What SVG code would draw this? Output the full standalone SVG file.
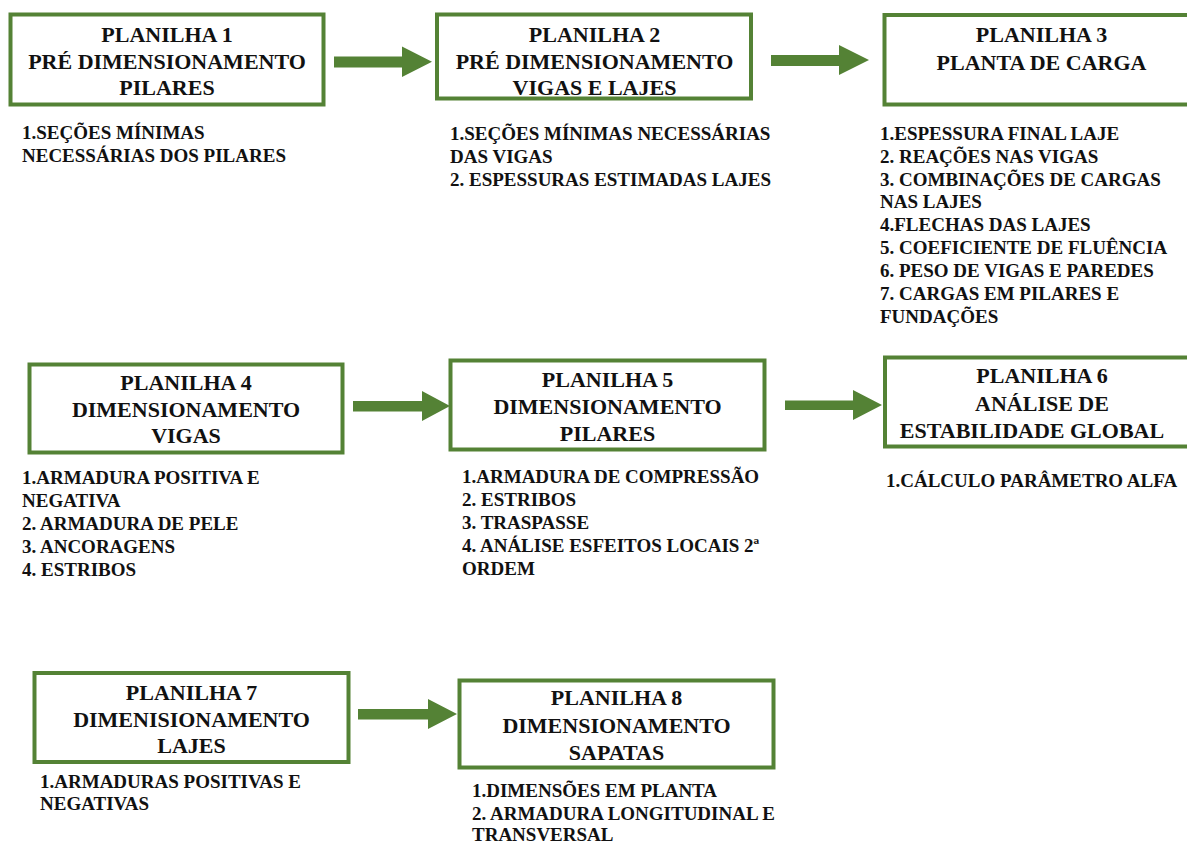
<svg xmlns="http://www.w3.org/2000/svg" width="1187" height="843" viewBox="0 0 1187 843">
<style>
.box{fill:#fff;stroke:#548235;stroke-width:4}
.arr{fill:#548235}
.t{font-family:"Liberation Serif","Times New Roman",serif;font-weight:bold;font-size:22px;fill:#111;text-anchor:middle}
.b{font-family:"Liberation Serif","Times New Roman",serif;font-weight:bold;font-size:19px;fill:#111}
</style>
<rect width="1187" height="843" fill="#fff"/>
<g id="connectors">
<polygon class="arr" points="334,56.5 402,56.5 402,46.5 432,61.7 402,77 402,67.5 334,67.5"/>
<polygon class="arr" points="771,55 839,55 839,45 869,60 839,75 839,66 771,66"/>
<polygon class="arr" points="353,401 422,401 422,391 450,406 422,421 422,411.5 353,411.5"/>
<polygon class="arr" points="785,400.5 853,400.5 853,390 882,405 853,420 853,410 785,410"/>
<polygon class="arr" points="358,709 428,709 428,699 457,714 428,729 428,719.5 358,719.5"/>
</g>
<g id="n1">
<rect class="box" x="10.5" y="14.5" width="313" height="90"/>
<text class="t" x="167" y="42">PLANILHA 1</text>
<text class="t" x="167" y="68.5">PRÉ DIMENSIONAMENTO</text>
<text class="t" x="167" y="95">PILARES</text>
<text class="b" x="22" y="138.5">1.SEÇÕES MÍNIMAS</text>
<text class="b" x="22" y="161.5">NECESSÁRIAS DOS PILARES</text>
</g>
<g id="n2">
<rect class="box" x="437" y="14.5" width="314" height="84"/>
<text class="t" x="594.5" y="42">PLANILHA 2</text>
<text class="t" x="594.5" y="68.5">PRÉ DIMENSIONAMENTO</text>
<text class="t" x="594.5" y="95">VIGAS E LAJES</text>
<text class="b" x="450" y="140">1.SEÇÕES MÍNIMAS NECESSÁRIAS</text>
<text class="b" x="450" y="163">DAS VIGAS</text>
<text class="b" x="450" y="186">2. ESPESSURAS ESTIMADAS LAJES</text>
</g>
<g id="n3">
<rect class="box" x="884.5" y="15" width="312" height="89.5"/>
<text class="t" x="1041.5" y="42">PLANILHA 3</text>
<text class="t" x="1041.5" y="69.5">PLANTA DE CARGA</text>
<text class="b" x="880" y="140">1.ESPESSURA FINAL LAJE</text>
<text class="b" x="880" y="163">2. REAÇÕES NAS VIGAS</text>
<text class="b" x="880" y="186">3. COMBINAÇÕES DE CARGAS</text>
<text class="b" x="880" y="208">NAS LAJES</text>
<text class="b" x="880" y="231">4.FLECHAS DAS LAJES</text>
<text class="b" x="880" y="254">5. COEFICIENTE DE FLUÊNCIA</text>
<text class="b" x="880" y="277">6. PESO DE VIGAS E PAREDES</text>
<text class="b" x="880" y="300">7. CARGAS EM PILARES E</text>
<text class="b" x="880" y="323">FUNDAÇÕES</text>
</g>
<g id="n4">
<rect class="box" x="29.5" y="364.5" width="313" height="88"/>
<text class="t" x="186" y="390">PLANILHA 4</text>
<text class="t" x="186" y="416.5">DIMENSIONAMENTO</text>
<text class="t" x="186" y="443">VIGAS</text>
<text class="b" x="22" y="484">1.ARMADURA POSITIVA E</text>
<text class="b" x="22" y="507">NEGATIVA</text>
<text class="b" x="22" y="530">2. ARMADURA DE PELE</text>
<text class="b" x="22" y="553">3. ANCORAGENS</text>
<text class="b" x="22" y="576">4. ESTRIBOS</text>
</g>
<g id="n5">
<rect class="box" x="450.5" y="360.5" width="314" height="89"/>
<text class="t" x="607.5" y="387">PLANILHA 5</text>
<text class="t" x="607.5" y="414">DIMENSIONAMENTO</text>
<text class="t" x="607.5" y="441">PILARES</text>
<text class="b" x="462" y="483">1.ARMADURA DE COMPRESSÃO</text>
<text class="b" x="462" y="506">2. ESTRIBOS</text>
<text class="b" x="462" y="529">3. TRASPASSE</text>
<text class="b" x="462" y="552">4. ANÁLISE ESFEITOS LOCAIS 2ª</text>
<text class="b" x="462" y="575">ORDEM</text>
</g>
<g id="n6">
<rect class="box" x="885" y="357.5" width="312" height="89"/>
<text class="t" x="1042" y="383">PLANILHA 6</text>
<text class="t" x="1042" y="411">ANÁLISE DE</text>
<text class="t" x="1032" y="438">ESTABILIDADE GLOBAL</text>
<text class="b" x="886" y="487">1.CÁLCULO PARÂMETRO ALFA</text>
</g>
<g id="n7">
<rect class="box" x="34.5" y="673" width="314" height="89"/>
<text class="t" x="191.5" y="700">PLANILHA 7</text>
<text class="t" x="191.5" y="727">DIMENISIONAMENTO</text>
<text class="t" x="191.5" y="753">LAJES</text>
<text class="b" x="40" y="787.5">1.ARMADURAS POSITIVAS E</text>
<text class="b" x="40" y="810">NEGATIVAS</text>
</g>
<g id="n8">
<rect class="box" x="459.5" y="680.5" width="314" height="87"/>
<text class="t" x="616.5" y="705">PLANILHA 8</text>
<text class="t" x="616.5" y="733">DIMENSIONAMENTO</text>
<text class="t" x="616.5" y="760">SAPATAS</text>
<text class="b" x="472" y="797">1.DIMENSÕES EM PLANTA</text>
<text class="b" x="472" y="820">2. ARMADURA LONGITUDINAL E</text>
<text class="b" x="472" y="841">TRANSVERSAL</text>
</g>
</svg>
